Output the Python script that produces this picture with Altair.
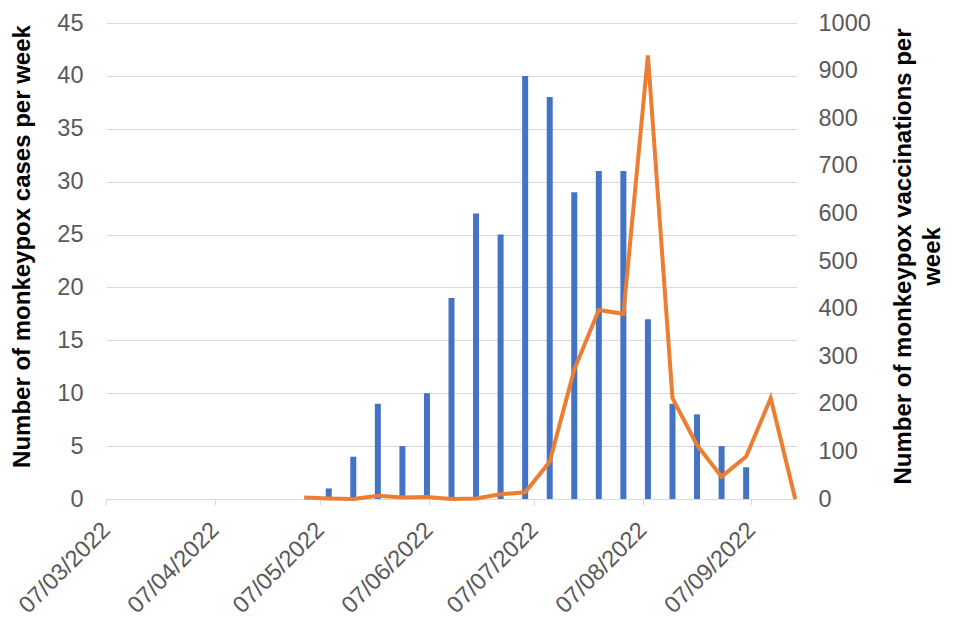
import altair as alt
import pandas as pd

# Weekly monkeypox cases (bars, left axis) - week commencing Mondays
case_dates = ["2022-05-09", "2022-05-16", "2022-05-23", "2022-05-30", "2022-06-06",
              "2022-06-13", "2022-06-20", "2022-06-27", "2022-07-04", "2022-07-11",
              "2022-07-18", "2022-07-25", "2022-08-01", "2022-08-08", "2022-08-15",
              "2022-08-22", "2022-08-29", "2022-09-05"]
cases = [1, 4, 9, 5, 10, 19, 27, 25, 40, 38, 29, 31, 31, 17, 9, 8, 5, 3]

# Weekly monkeypox vaccinations (line, right axis)
vacc_dates = ["2022-05-02", "2022-05-09", "2022-05-16", "2022-05-23", "2022-05-30",
              "2022-06-06", "2022-06-13", "2022-06-20", "2022-06-27", "2022-07-04",
              "2022-07-11", "2022-07-18", "2022-07-25", "2022-08-01", "2022-08-08",
              "2022-08-15", "2022-08-22", "2022-08-29", "2022-09-05", "2022-09-12",
              "2022-09-19"]
vaccinations = [3, 1, 0, 7, 3, 4, 0, 1, 10, 14, 78, 272, 397, 389, 932, 212, 113, 47, 89, 212, 0]

left_ticks = [0, 5, 10, 15, 20, 25, 30, 35, 40, 45]
right_ticks = [0, 100, 200, 300, 400, 500, 600, 700, 800, 900, 1000]
x_tick_months = [3, 4, 5, 6, 7, 8, 9]

cases_df = pd.DataFrame({"date": [d + "T12:00:00" for d in case_dates], "cases": cases})
vacc_df = pd.DataFrame({"date": [d + "T12:00:00" for d in vacc_dates], "vacc": vaccinations})

FONT = "Liberation Sans"
GREY = "#595959"
GRID = "#d9d9d9"
LABEL_SIZE = 23.5

x_enc = alt.X(
    "date:T",
    scale=alt.Scale(domain=[alt.DateTime(year=2022, month=3, date=7),
                            alt.DateTime(year=2022, month=9, date=20)],
                    padding=0),
    axis=alt.Axis(
        title=None,
        values=[alt.DateTime(year=2022, month=m, date=7) for m in x_tick_months],
        format="%d/%m/%Y",
        labelAngle=315,
        labelAlign="right",
        labelBaseline="middle",
        labelPadding=21,
        labelFontSize=LABEL_SIZE,
        labelColor=GREY,
        labelFont=FONT,
        ticks=True,
        tickSize=6,
        tickColor=GRID,
        domainColor=GRID,
        grid=False,
        labelOverlap=False,
    ),
)

bars = alt.Chart(cases_df).mark_bar(size=6, color="#4472C4").encode(
    x=x_enc,
    y=alt.Y(
        "cases:Q",
        scale=alt.Scale(domain=[0, 45], nice=False),
        axis=alt.Axis(
            orient="left",
            values=left_ticks,
            title="Number of monkeypox cases per week",
            titleFont=FONT,
            titleFontSize=24,
            titleFontWeight="bold",
            titleColor="#000000",
            titleAngle=270,
            titleX=-84,
            titleY=223,
            titleAlign="center",
            titleBaseline="middle",
            labelFont=FONT,
            labelFontSize=LABEL_SIZE,
            labelColor=GREY,
            labelPadding=23,
            ticks=False,
            tickSize=0,
            domain=False,
            grid=True,
            gridColor=GRID,
            gridWidth=1,
        ),
    ),
)

line = alt.Chart(vacc_df).mark_line(color="#ED7D31", strokeWidth=4).encode(
    x=alt.X("date:T"),
    y=alt.Y(
        "vacc:Q",
        scale=alt.Scale(domain=[0, 1000], nice=False),
        axis=alt.Axis(
            orient="right",
            values=right_ticks,
            format="d",
            title=["Number of monkeypox vaccinations per", "week"],
            titleFont=FONT,
            titleFontSize=24,
            titleFontWeight="bold",
            titleColor="#000000",
            titleAngle=270,
            titleX=106,
            titleY=233,
            titleAlign="center",
            titleBaseline="middle",
            titleLineHeight=29,
            labelFont=FONT,
            labelFontSize=LABEL_SIZE,
            labelColor=GREY,
            labelPadding=21,
            ticks=False,
            tickSize=0,
            domain=False,
            grid=False,
        ),
    ),
)

chart = alt.layer(bars, line).resolve_scale(y="independent").properties(
    width=691,
    height=476,
    autosize=alt.AutoSizeParams(type="none"),
    padding={"left": 98, "top": 15, "right": 155, "bottom": 130},
    background="#ffffff",
).configure_view(stroke=None)

chart.save("out.html", embed_options={"renderer": "svg", "actions": False})
